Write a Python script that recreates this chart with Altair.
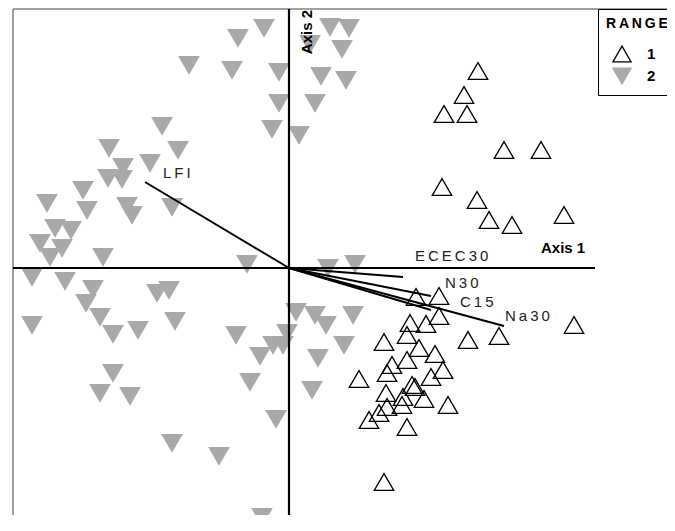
import altair as alt
import pandas as pd

# ---- data (ordination scores) ----
r1_x = [1.89, 1.75, 1.55, 1.78, 2.15, 2.52, 1.53, 1.88, 2.00, 2.23, 2.75, 2.85, 2.10, 1.79,
        1.50, 1.27, 1.50, 1.21, 1.37, 1.18, 0.95, 1.30, 1.46, 1.18, 1.03, 0.98, 1.54, 1.42,
        0.70, 1.23, 1.26, 0.97, 1.14, 1.35, 0.98, 1.13, 0.90, 1.59, 0.80, 1.18, 0.95]
r1_y = [1.97, 1.73, 1.54, 1.54, 1.18, 1.18, 0.81, 0.68, 0.48, 0.43, 0.53, -0.57, -0.68, -0.72,
        -0.28, -0.29, -0.48, -0.55, -0.56, -0.67, -0.74, -0.80, -0.86, -0.92, -0.97, -1.05, -1.02, -1.09,
        -1.11, -1.17, -1.19, -1.25, -1.29, -1.31, -1.39, -1.37, -1.45, -1.37, -1.52, -1.59, -2.14]

r2_x = [-0.25, -0.51, -1.00, -0.57, -0.10, -0.10, -0.17, 0.10, 0.41, 0.60, 0.21, 0.53, 0.32, 0.57,
        0.26, -1.27, -1.11, -1.80, -1.66, -1.39, -1.81, -1.67, -2.06, -2.42, -2.02, -1.62, -1.57, -1.17,
        -2.34, -2.18, -2.49, -2.27, -2.39, -1.86, -0.42, -2.57, -2.24, -1.96, -2.03, -1.89, -2.57, -1.76,
        -1.51, -1.32, -1.20, -1.14, -0.53, -1.76, -1.89, -1.59, -1.17, -0.70, -0.27, -0.39, -0.29, -0.16,
        -0.06, -0.02, -0.13, 0.07, 0.26, 0.37, 0.64, 0.55, 0.29, 0.23, 0.39, 0.66]
r2_y = [2.40, 2.30, 2.03, 1.98, 1.96, 1.65, 1.39, 1.33, 2.41, 2.40, 2.24, 2.19, 1.92, 1.88,
        1.65, 1.42, 1.18, 1.20, 1.01, 1.05, 0.90, 0.89, 0.78, 0.65, 0.58, 0.62, 0.53, 0.61,
        0.40, 0.38, 0.25, 0.20, 0.11, 0.11, 0.04, -0.09, -0.13, -0.21, -0.35, -0.49, -0.57, -0.66,
        -0.62, -0.25, -0.22, -0.53, -0.67, -1.05, -1.25, -1.28, -1.75, -1.88, -2.49, -1.14, -0.88, -0.77,
        -0.77, -0.65, -1.51, -0.44, -0.47, -0.57, -0.47, -0.77, -0.90, -1.22, 0.00, 0.04]

vec_names = ["LFI", "ECEC30", "N30", "C15", "Na30"]
vec_x = [-1.44, 1.14, 1.42, 1.42, 2.15]
vec_y = [0.86, -0.09, -0.28, -0.42, -0.58]
lab_x = [-1.26, 1.26, 1.56, 1.71, 2.16]
lab_y = [0.95, 0.12, -0.15, -0.34, -0.48]

range_levels = ["1", "2"]

X_DOM = [-2.76, 3.78]
Y_DOM = [-2.47, 2.59]
W, H = 654, 506
FONT = "Liberation Sans"
GREY = "#a9a9a9"

pts = pd.DataFrame({
    "x": r2_x + r1_x,
    "y": r2_y + r1_y,
    "RANGE": ["2"] * len(r2_x) + ["1"] * len(r1_x),
})
vec = pd.DataFrame({
    "name": vec_names,
    "label": ["\u2009".join(n) for n in vec_names],
    "x0": [0.0] * len(vec_names),
    "y0": [0.0] * len(vec_names),
    "vx": vec_x, "vy": vec_y, "lx": lab_x, "ly": lab_y,
})

xs = alt.Scale(domain=X_DOM, nice=False, zero=False)
ys = alt.Scale(domain=Y_DOM, nice=False, zero=False)

leg = alt.Legend(
    title="R\u2009A\u2009N\u2009G\u2009E", orient="none", legendX=585, legendY=0,
    strokeColor="black", fillColor="white", padding=8,
    titleFont=FONT, titleFontSize=14, titleFontWeight="bold", titleColor="black",
    labelFont=FONT, labelFontSize=15, labelFontWeight="bold", labelColor="black",
    symbolSize=330, symbolStrokeWidth=1.3, symbolOffset=6, labelOffset=15,
    rowPadding=0, titlePadding=13,
)

points = alt.Chart(pts).mark_point(size=380, strokeWidth=1.3, opacity=1).encode(
    x=alt.X("x:Q", scale=xs, axis=None),
    y=alt.Y("y:Q", scale=ys, axis=None),
    shape=alt.Shape("RANGE:N", scale=alt.Scale(domain=range_levels, range=["triangle-up", "triangle-down"]), legend=leg),
    fill=alt.Fill("RANGE:N", scale=alt.Scale(domain=range_levels, range=["transparent", GREY]), legend=leg),
    stroke=alt.Stroke("RANGE:N", scale=alt.Scale(domain=range_levels, range=["black", GREY]), legend=leg),
)

frame_left = alt.Chart(pd.DataFrame({"a": [0]})).mark_rule(color="#808080", strokeWidth=1.5).encode(
    x=alt.value(0), y=alt.value(0), y2=alt.value(H))
frame_top = alt.Chart(pd.DataFrame({"a": [0]})).mark_rule(color="#808080", strokeWidth=1.5).encode(
    x=alt.value(0), x2=alt.value(W), y=alt.value(0))

hline = alt.Chart(pd.DataFrame({"x": [X_DOM[0]], "x2": [3.06], "y": [0.0]})).mark_rule(
    color="black", strokeWidth=2.2).encode(
    x=alt.X("x:Q", scale=xs, axis=None), x2="x2:Q", y=alt.Y("y:Q", scale=ys, axis=None))
vline = alt.Chart(pd.DataFrame({"x": [0.0]})).mark_rule(color="black", strokeWidth=2.2).encode(
    x=alt.X("x:Q", scale=xs, axis=None))

vectors = alt.Chart(vec).mark_rule(color="black", strokeWidth=2).encode(
    x=alt.X("x0:Q", scale=xs, axis=None), y=alt.Y("y0:Q", scale=ys, axis=None),
    x2="vx:Q", y2="vy:Q")
vlabels = alt.Chart(vec).mark_text(align="left", baseline="middle", font=FONT, fontSize=15,
                                   color="#222222").encode(
    x=alt.X("lx:Q", scale=xs, axis=None), y=alt.Y("ly:Q", scale=ys, axis=None), text="label:N")

ax1 = alt.Chart(pd.DataFrame({"x": [2.52], "y": [0.20], "t": ["Axis 1"]})).mark_text(
    align="left", baseline="middle", font=FONT, fontSize=15, fontWeight="bold", color="black").encode(
    x=alt.X("x:Q", scale=xs, axis=None), y=alt.Y("y:Q", scale=ys, axis=None), text="t:N")
ax2 = alt.Chart(pd.DataFrame({"x": [0.18], "y": [2.58], "t": ["Axis 2"]})).mark_text(
    align="right", baseline="middle", angle=270, font=FONT, fontSize=15, fontWeight="bold",
    color="black").encode(
    x=alt.X("x:Q", scale=xs, axis=None), y=alt.Y("y:Q", scale=ys, axis=None), text="t:N")

chart = alt.layer(points, frame_left, frame_top, hline, vline, vectors, vlabels, ax1, ax2).properties(
    width=W, height=H, padding={"left": 5, "top": 1, "right": 0, "bottom": 0}, autosize="none",
    background="white",
).configure_view(stroke=None)

chart.save("out.html", embed_options={"renderer": "svg", "actions": False})
